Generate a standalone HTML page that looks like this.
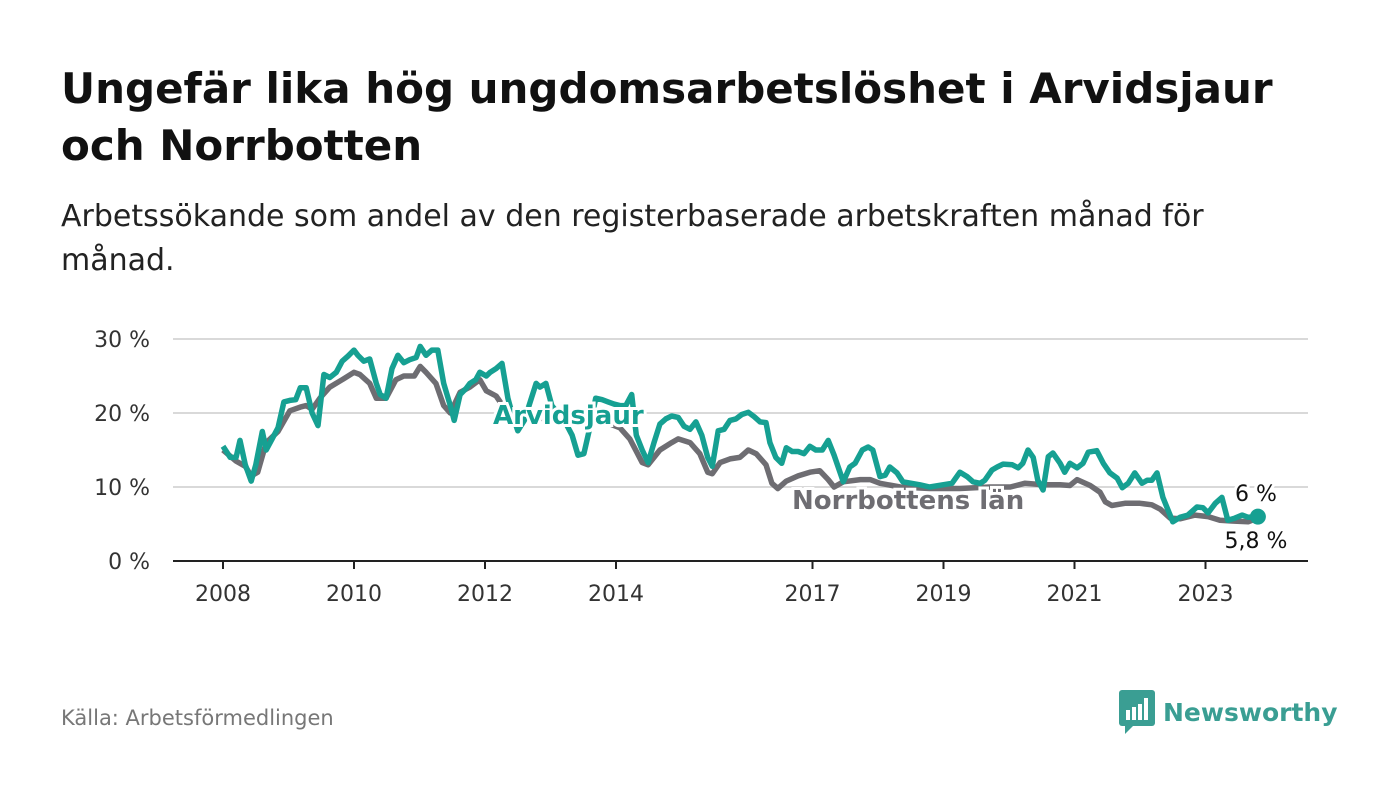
<!DOCTYPE html>
<html><head><meta charset="utf-8">
<style>
body{margin:0;background:#fff;font-family:"DejaVu Sans","Liberation Sans",sans-serif;}
#wrap{position:relative;width:1400px;height:794px;overflow:hidden;}
h1{position:absolute;left:61px;top:60px;margin:0;font-size:42px;line-height:57px;font-weight:bold;color:#111;width:1260px;}
.sub{position:absolute;left:61px;top:195px;margin:0;font-size:30px;line-height:44px;color:#222;width:1240px;}
.src{position:absolute;left:61px;top:706px;font-size:21px;color:#777;}
.logo{position:absolute;left:1119px;top:690px;display:flex;align-items:center;}
.logo span{font-size:25px;font-weight:bold;color:#3a9e93;margin-left:8px;}
</style></head><body>
<div id="wrap">
<h1>Ungefär lika hög ungdomsarbetslöshet i Arvidsjaur och Norrbotten</h1>
<p class="sub">Arbetssökande som andel av den registerbaserade arbetskraften månad för månad.</p>
<svg id="chart" width="1400" height="794" style="position:absolute;left:0;top:0"></svg>
<div class="src">Källa: Arbetsförmedlingen</div>
<div class="logo">
<svg width="36" height="44" viewBox="0 0 36 44"><rect x="0" y="0" width="36" height="36" rx="3" fill="#3a9e93"/><path d="M6 36 L6 44 L14 36Z" fill="#3a9e93"/><rect x="7" y="20" width="4" height="10" fill="#fff"/><rect x="13" y="17" width="4" height="13" fill="#fff"/><rect x="19" y="14" width="4" height="16" fill="#fff"/><rect x="25" y="8" width="4" height="22" fill="#fff"/></svg>
<span>Newsworthy</span></div>
</div>
<script>
const yTicks=[0,10,20,30];
const xTickYears=[2008,2010,2012,2014,2017,2019,2021,2023];
const datesA=[2008.00,2008.11,2008.20,2008.26,2008.34,2008.43,2008.50,2008.60,2008.66,2008.75,2008.84,2008.93,2009.02,2009.11,2009.18,2009.27,2009.36,2009.45,2009.54,2009.63,2009.73,2009.82,2009.91,2010.00,2010.06,2010.15,2010.24,2010.34,2010.40,2010.49,2010.58,2010.67,2010.76,2010.85,2010.95,2011.01,2011.10,2011.19,2011.28,2011.37,2011.47,2011.53,2011.62,2011.71,2011.77,2011.86,2011.92,2012.02,2012.08,2012.17,2012.26,2012.35,2012.41,2012.50,2012.60,2012.69,2012.78,2012.84,2012.93,2013.02,2013.11,2013.21,2013.33,2013.42,2013.51,2013.60,2013.69,2013.79,2013.88,2013.97,2014.06,2014.15,2014.24,2014.31,2014.40,2014.49,2014.58,2014.67,2014.76,2014.85,2014.95,2015.04,2015.13,2015.22,2015.31,2015.40,2015.47,2015.56,2015.65,2015.74,2015.83,2015.92,2016.02,2016.11,2016.20,2016.29,2016.35,2016.44,2016.53,2016.60,2016.69,2016.78,2016.87,2016.96,2017.05,2017.15,2017.24,2017.33,2017.47,2017.57,2017.65,2017.76,2017.85,2017.92,2018.03,2018.11,2018.18,2018.29,2018.38,2018.64,2018.79,2018.99,2019.13,2019.25,2019.36,2019.45,2019.56,2019.63,2019.74,2019.82,2019.91,2020.05,2020.14,2020.21,2020.29,2020.37,2020.44,2020.52,2020.60,2020.67,2020.78,2020.85,2020.93,2021.04,2021.13,2021.21,2021.34,2021.44,2021.54,2021.65,2021.73,2021.82,2021.92,2022.03,2022.11,2022.18,2022.26,2022.35,2022.50,2022.61,2022.73,2022.87,2022.96,2023.04,2023.15,2023.25,2023.34,2023.45,2023.56,2023.65,2023.80];
const arvidsjaur=[15.5,14,14,16.3,13,10.8,13,17.5,15,16.5,18,21.5,21.7,21.8,23.4,23.4,20,18.3,25.2,24.8,25.5,27,27.7,28.5,27.8,27,27.3,24,22.5,22,26,27.8,26.8,27.2,27.5,29,27.8,28.5,28.5,24,21,19,22.5,23.3,24,24.5,25.5,25,25.5,26,26.7,22,20,17.6,19,21.5,24,23.5,24,21,20,19,17,14.3,14.5,18,22,21.8,21.5,21.2,21,21,22.5,17,15,13.3,16,18.5,19.2,19.6,19.4,18.2,17.8,18.8,17,14,12.8,17.6,17.8,19,19.2,19.8,20.1,19.5,18.8,18.7,16,14,13.2,15.3,14.8,14.8,14.5,15.5,15,15,16.3,14.3,10.7,12.7,13.2,15,15.4,15,11.4,11.6,12.7,11.9,10.7,10.3,10,10.3,10.5,12,11.4,10.7,10.5,10.9,12.3,12.7,13.1,13,12.6,13.2,15,14,10.9,9.6,14.1,14.6,13.2,12,13.2,12.6,13.2,14.7,14.9,13.2,11.9,11.2,9.9,10.5,11.9,10.5,10.9,10.9,11.9,8.6,5.3,5.9,6.2,7.3,7.2,6.5,7.8,8.6,5.5,5.8,6.2,5.9,6.0];
const datesN=[2008.00,2008.20,2008.34,2008.43,2008.53,2008.66,2008.84,2009.02,2009.18,2009.27,2009.36,2009.48,2009.63,2009.82,2010.00,2010.09,2010.24,2010.34,2010.49,2010.64,2010.76,2010.92,2011.01,2011.10,2011.25,2011.37,2011.47,2011.62,2011.77,2011.92,2012.02,2012.17,2012.35,2012.53,2012.84,2013.15,2013.60,2013.91,2014.06,2014.21,2014.40,2014.49,2014.67,2014.85,2014.95,2015.13,2015.28,2015.40,2015.47,2015.59,2015.74,2015.89,2016.02,2016.14,2016.29,2016.38,2016.47,2016.60,2016.78,2016.96,2017.11,2017.24,2017.33,2017.47,2017.73,2017.88,2018.03,2018.34,2018.79,2019.25,2019.71,2020.02,2020.24,2020.52,2020.78,2020.93,2021.04,2021.24,2021.39,2021.47,2021.57,2021.77,2022.00,2022.18,2022.31,2022.46,2022.61,2022.84,2023.04,2023.22,2023.40,2023.65,2023.80];
const norrbotten=[15,13.5,12.8,11.5,12,16,17.5,20.3,20.8,21,20.5,22,23.5,24.5,25.5,25.2,24,22,22,24.5,25,25,26.3,25.5,24,21,20,22.8,23.5,24.5,23,22.3,20,19.5,19.3,19,19,18.5,18,16.5,13.3,13,15,16,16.5,16,14.5,12,11.8,13.3,13.8,14,15,14.5,13,10.5,9.8,10.8,11.5,12,12.2,11,10,10.7,11,11,10.5,10,9.8,9.8,10,10,10.5,10.3,10.3,10.2,11,10.2,9.3,8,7.5,7.8,7.8,7.6,7,5.8,5.7,6.2,6,5.5,5.4,5.3,5.8];
const svg=document.getElementById('chart');
const NS='http://www.w3.org/2000/svg';
const FONT='DejaVu Sans, Liberation Sans, sans-serif';
const x=yr=>223+(yr-2008)*65.5;
const y=v=>561-v*7.4;
function mk(t,a){const e=document.createElementNS(NS,t);for(const k in a)e.setAttribute(k,a[k]);svg.appendChild(e);return e;}
yTicks.forEach(t=>{
  if(t>0){const g=mk('line',{x1:173,x2:1308,y1:y(t),y2:y(t),stroke:'#d9d9d9','stroke-width':2});
  
  }
  const l=mk('text',{x:150,y:y(t)+8,'text-anchor':'end','font-size':22,fill:'#333','font-family':FONT});
  l.textContent=t+' %';
  
  
});
xTickYears.forEach(t=>{
  const tk=mk('line',{x1:x(t),x2:x(t),y1:561,y2:569,stroke:'#222','stroke-width':2});
  
  
  const l=mk('text',{x:x(t),y:601,'text-anchor':'middle','font-size':22,fill:'#333','font-family':FONT});
  l.textContent=t;
  
  
});
const ax=mk('line',{x1:173,x2:1308,y1:561,y2:561,stroke:'#222','stroke-width':2});


function path(ds,vs){return ds.map((d,i)=>(i?'L':'M')+x(d).toFixed(1)+' '+y(vs[i]).toFixed(1)).join(' ');}
const pn=mk('path',{d:path(datesN,norrbotten),fill:'none',stroke:'#6e6d72','stroke-width':5.5,'stroke-linejoin':'round'});


const pa=mk('path',{d:path(datesA,arvidsjaur),fill:'none',stroke:'#16a092','stroke-width':5.5,'stroke-linejoin':'round'});


const lastA=arvidsjaur.length-1;
const dot=mk('circle',{cx:x(datesA[lastA]),cy:y(arvidsjaur[lastA]),r:8,fill:'#16a092'});


function lab(txt,xx,yy,col,size,bold,anchor,name){
  const a={x:xx,y:yy,'font-size':size,'font-weight':bold?'bold':'normal',fill:col,'text-anchor':anchor,stroke:'#fff','stroke-width':6,'paint-order':'stroke','font-family':FONT};
  const t=mk('text',a);t.textContent=txt;
  
  
}
lab('Arvidsjaur',493,424,'#16a092',26,true,'start','arvidsjaur-label');
lab('Norrbottens län',792,509,'#6e6d72',26,true,'start','norrbotten-label');
lab(String(arvidsjaur[lastA]).replace('.',',')+' %',1256,501,'#111',22,false,'middle','arvidsjaur-end-value');
lab(String(norrbotten[norrbotten.length-1]).replace('.',',')+' %',1256,548,'#111',22,false,'middle','norrbotten-end-value');
</script>
</body></html>
